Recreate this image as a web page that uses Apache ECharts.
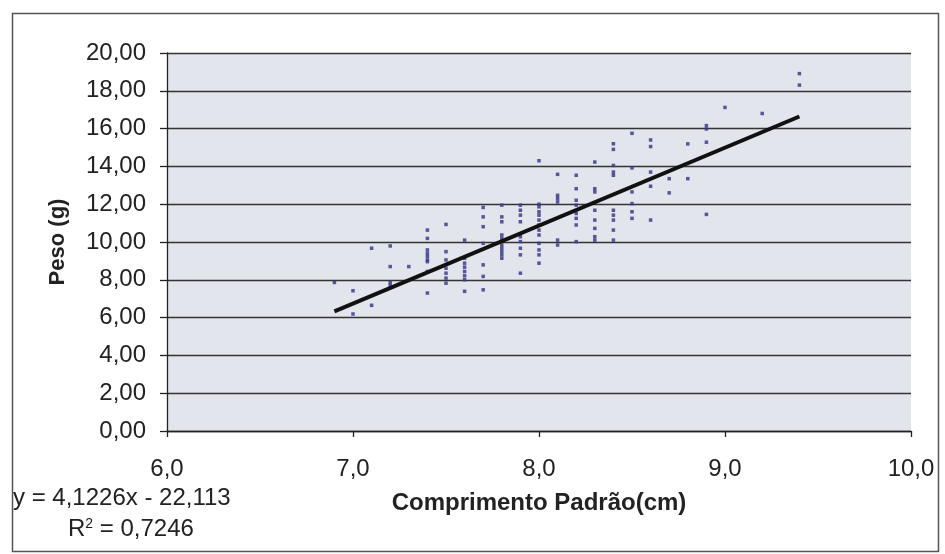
<!DOCTYPE html>
<html>
<head>
<meta charset="utf-8">
<script src="https://cdn.jsdelivr.net/npm/echarts@6/dist/echarts.min.js"></script>
<style>
html,body{margin:0;padding:0;background:#fff;}
#chart{width:945px;height:554px;}
</style>
</head>
<body>
<div id="chart"></div>
<script>
// Comprimento Padrão (cm) — discrete length classes
var lengths = [6.9, 7.0, 7.1, 7.2, 7.3, 7.4, 7.5, 7.6, 7.7, 7.8, 7.9, 8.0, 8.1, 8.2, 8.3, 8.4, 8.5, 8.6, 8.7, 8.8, 8.9, 9.0, 9.2, 9.4];
// Peso (g) observed for each length class
var weights = [
  [7.86],
  [7.42, 6.19],
  [9.67, 6.65],
  [9.79, 8.70, 7.86, 7.70],
  [8.70],
  [10.63, 10.19, 9.58, 9.40, 9.23, 9.05, 8.96, 8.44, 7.30],
  [10.93, 9.49, 9.05, 8.61, 8.35, 8.09, 7.82],
  [10.10, 9.14, 8.88, 8.67, 8.44, 8.21, 8.00, 7.39],
  [11.83, 11.33, 10.81, 9.93, 8.79, 8.18, 7.47],
  [11.95, 11.33, 11.07, 10.37, 10.19, 9.84, 9.67, 9.49, 9.32, 9.14],
  [11.95, 11.68, 11.42, 11.07, 10.28, 10.02, 9.67, 9.32, 8.35],
  [14.30, 12.00, 11.86, 11.60, 11.42, 11.16, 10.90, 10.63, 10.37, 9.93, 9.58, 9.32, 8.88],
  [13.58, 12.47, 12.30, 12.12, 10.10, 9.84],
  [13.53, 12.82, 12.21, 11.95, 11.51, 11.25, 10.90, 10.02],
  [14.23, 12.82, 12.65, 11.68, 11.16, 10.72, 10.28, 10.10],
  [15.20, 14.90, 14.05, 13.70, 13.53, 11.68, 11.42, 11.16, 10.63, 10.10],
  [15.75, 13.92, 12.65, 12.03, 11.60, 11.25],
  [15.40, 15.05, 13.70, 12.95, 11.16],
  [13.35, 12.60],
  [15.19, 13.35],
  [16.16, 15.98, 15.28, 11.46],
  [17.12],
  [16.80],
  [18.91, 18.30]
];
// Linear trend (from the chart's equation)
var trendSlope = 4.1226;
var trendIntercept = -22.113;
var trendRange = [6.9, 9.4];
var equationText = 'y = 4,1226x - 22,113';
var r2Text = '0,7246';

var scatterData = [];
lengths.forEach(function (x, i) {
  weights[i].forEach(function (y) { scatterData.push([x, y]); });
});
var trendData = trendRange.map(function (x) { return [x, trendSlope * x + trendIntercept]; });

function fmt(v, d) { return v.toFixed(d).replace('.', ','); }

var chart = echarts.init(document.getElementById('chart'), null, {renderer: 'canvas'});
var FONT = '"Liberation Sans", Arial, sans-serif';
chart.setOption({
  animation: false,
  backgroundColor: '#ffffff',
  grid: {left: 167, right: 34, top: 53, bottom: 123, show: true, backgroundColor: '#e2e5eb', borderWidth: 0},
  xAxis: {
    type: 'value', min: 6, max: 10, interval: 1,
    name: 'Comprimento Padrão(cm)', nameLocation: 'middle', nameGap: 60,
    nameTextStyle: {fontFamily: FONT, fontSize: 24, fontWeight: 'bold', color: '#222'},
    axisLine: {show: true, onZero: false, lineStyle: {color: '#222', width: 1.3}},
    axisTick: {show: true, length: 6, lineStyle: {color: '#222', width: 1.3}},
    axisLabel: {fontFamily: FONT, fontSize: 24, color: '#222', margin: 26, formatter: function (v) { return fmt(v, 1); }},
    splitLine: {show: false}
  },
  yAxis: {
    type: 'value', min: 0, max: 20, interval: 2,
    name: 'Peso (g)', nameLocation: 'middle', nameGap: 98, nameRotate: 90,
    nameTextStyle: {fontFamily: FONT, fontSize: 22, fontWeight: 'bold', color: '#222'},
    axisLine: {show: true, onZero: false, lineStyle: {color: '#222', width: 1.3}},
    axisTick: {show: true, length: 7, lineStyle: {color: '#222', width: 1.3}},
    axisLabel: {fontFamily: FONT, fontSize: 24, color: '#222', margin: 21, formatter: function (v) { return fmt(v, 2); }},
    splitLine: {show: true, lineStyle: {color: '#333', width: 1.3}}
  },
  series: [
    {
      type: 'scatter', data: scatterData, symbol: 'rect', symbolSize: 3.5,
      itemStyle: {color: '#3c3c8c', opacity: 0.85}, z: 3
    },
    {
      type: 'line', data: trendData, symbol: 'none',
      lineStyle: {color: '#111', width: 4}, z: 4
    }
  ],
  graphic: [
    {type: 'rect', left: 10, top: 11, shape: {x: 0, y: 0, width: 926, height: 538},
     style: {fill: 'none', stroke: '#555', lineWidth: 1.5}, silent: true},
    {type: 'text', left: 13, top: 486, style: {text: equationText, font: '24px ' + FONT, fill: '#222'}},
    {type: 'text', left: 68, top: 517, style: {
      text: 'R{sup|2} = ' + r2Text,
      font: '24px ' + FONT, fill: '#222',
      rich: {sup: {fontSize: 14, fontFamily: FONT, fill: '#222', verticalAlign: 'top', padding: [0, 0, 10, 0]}}
    }}
  ]
});
</script>
</body>
</html>
